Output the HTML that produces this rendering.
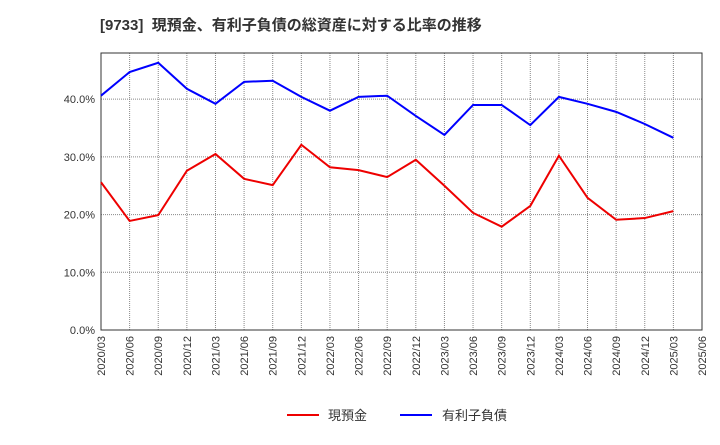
<!DOCTYPE html>
<html><head><meta charset="utf-8">
<style>
body{margin:0;background:#fff;width:720px;height:440px;overflow:hidden;font-family:"Liberation Sans","Noto Sans CJK JP",sans-serif;}
</style></head>
<body>
<svg id="chart" width="720" height="440" xmlns="http://www.w3.org/2000/svg" font-family="Liberation Sans, Noto Sans CJK JP, sans-serif">
<text x="100" y="30" font-size="15" font-weight="bold" fill="#333" style="white-space:pre">[9733]  現預金、有利子負債の総資産に対する比率の推移</text>
<g id="grid"></g>
<g id="axes"></g>
<g id="series"></g>
<g>
<line x1="287" y1="415" x2="319" y2="415" stroke="#e00" stroke-width="2"/>
<text x="328" y="420" font-size="13" fill="#333">現預金</text>
<line x1="400" y1="415" x2="432" y2="415" stroke="#00f" stroke-width="2"/>
<text x="442" y="420" font-size="13" fill="#333">有利子負債</text>
</g>
</svg>
<script>
const categories=["2020/03","2020/06","2020/09","2020/12","2021/03","2021/06","2021/09","2021/12","2022/03","2022/06","2022/09","2022/12","2023/03","2023/06","2023/09","2023/12","2024/03","2024/06","2024/09","2024/12","2025/03","2025/06"];
const cashValues=[25.6,18.9,19.9,27.6,30.5,26.2,25.1,32.1,28.2,27.7,26.5,29.5,25.0,20.3,17.9,21.5,30.2,22.9,19.1,19.4,20.6];
const debtValues=[40.6,44.7,46.3,41.8,39.2,43.0,43.2,40.4,38.0,40.4,40.6,37.1,33.8,39.0,39.0,35.5,40.4,39.2,37.8,35.7,33.3];
const yTicks=[0,10,20,30,40];
const yTickLabels=["0.0%","10.0%","20.0%","30.0%","40.0%"];
const X0=101,X1=702,Y0=330,YT=53,YMAX=48;
const NS="http://www.w3.org/2000/svg";
function xs(i){return X0+(X1-X0)*i/(categories.length-1);}
function ys(v){return Y0-(Y0-YT)*v/YMAX;}
function mk(tag,attrs,parent){const e=document.createElementNS(NS,tag);for(const k in attrs)e.setAttribute(k,attrs[k]);parent.appendChild(e);return e;}
const grid=document.getElementById('grid'),axes=document.getElementById('axes'),series=document.getElementById('series');
categories.forEach((c,i)=>{
  const x=xs(i);
  if(i>0&&i<categories.length-1){const l=mk('line',{x1:x,y1:YT,x2:x,y2:Y0,stroke:'#888','stroke-width':1,'stroke-dasharray':'1,1'},grid);
  
  }
  const t=mk('text',{x:0,y:0,'font-size':11,fill:'#333','text-anchor':'end',transform:`translate(${x+4},${Y0+6}) rotate(-90)`},axes);
  t.textContent=c;
  
  
});
yTicks.forEach((v,i)=>{
  const y=ys(v);
  if(v>0){const l=mk('line',{x1:X0,y1:y,x2:X1,y2:y,stroke:'#888','stroke-width':1,'stroke-dasharray':'1,1'},grid);
  
  }
  const t=mk('text',{x:X0-6,y:y+4,'font-size':11,fill:'#333','text-anchor':'end'},axes);
  t.textContent=yTickLabels[i];
  
  
});
const frame=mk('rect',{x:X0,y:YT,width:X1-X0,height:Y0-YT,fill:'none',stroke:'#333','stroke-width':1},axes);


function line(vals,color,name){
  const p=mk('polyline',{points:vals.map((v,i)=>xs(i)+','+ys(v)).join(' '),fill:'none',stroke:color,'stroke-width':2},series);
  
  
}
line(cashValues,'#e00','cash-line');
line(debtValues,'#00f','debt-line');
</script>
</body></html>
